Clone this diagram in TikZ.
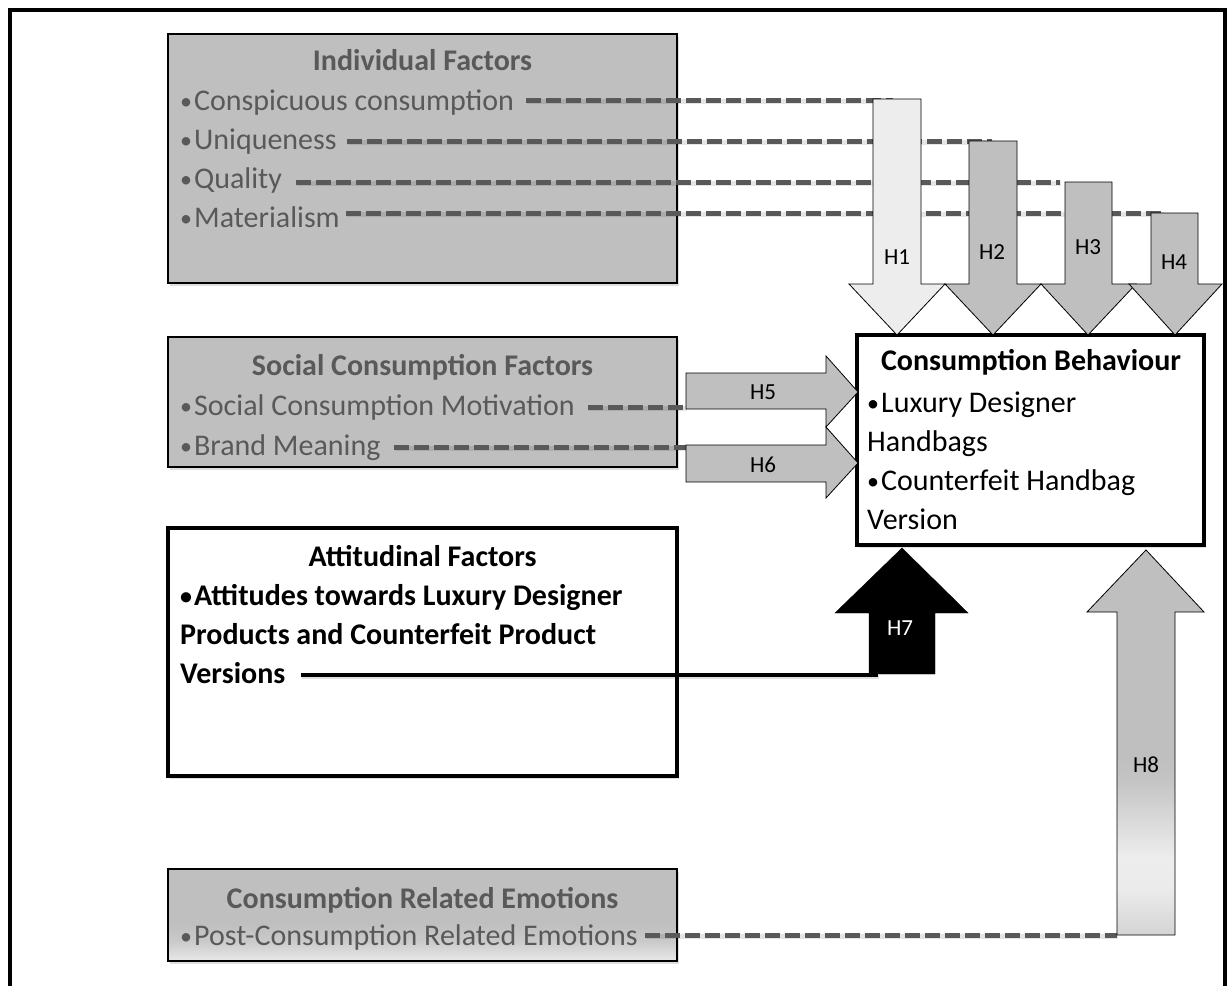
\documentclass[tikz,border=0pt]{standalone}
\usepackage{fontspec}
\setmainfont{Carlito}
\usetikzlibrary{shadows,calc}
\definecolor{tgray}{HTML}{595959}
\definecolor{bgray}{HTML}{BFBFBF}
\definecolor{lgray}{HTML}{EDEDED}
\newcommand{\bul}{\raisebox{1pt}{\fontsize{24}{24}\selectfont •}\kern2pt}
\pgfdeclareverticalshading{hEightShade}{100bp}{color(0bp)=(black!17); color(25bp)=(black!17); color(31bp)=(black!8); color(35bp)=(black!7); color(45bp)=(black!23); color(48bp)=(black!25); color(100bp)=(black!25)}
\pgfdeclareverticalshading{emoShade}{100bp}{color(0bp)=(black!9); color(25bp)=(black!9); color(36bp)=(black!21); color(45bp)=(black!25); color(100bp)=(black!25)}
\begin{document}
\begin{tikzpicture}[x=1pt,y=-1pt,
  gbox/.style={draw=black, line width=1.2pt, fill=bgray, drop shadow={opacity=0.25, shadow xshift=2pt, shadow yshift=-3pt}},
  wbox/.style={draw=black, line width=3.5pt, fill=white, drop shadow={opacity=0.25, shadow xshift=2pt, shadow yshift=-3pt}},
  body/.style={anchor=base west, inner sep=0pt, font=\fontsize{30}{36}\selectfont, text=tgray},
  head/.style={anchor=base, inner sep=0pt, font=\fontsize{30}{36}\selectfont\bfseries, text=tgray},
  dsh/.style={draw=tgray, line width=5pt, dash pattern=on 15pt off 5pt,
    preaction={draw=black, opacity=0.1, line width=5pt, transform canvas={xshift=1pt, yshift=-1.5pt}}},
  blk/.style={draw=black, line width=0.8pt, fill=bgray},
  hlab/.style={font=\fontsize{23}{26}\selectfont, inner sep=0pt}
]
\useasboundingbox (0,0) rectangle (1228,985);
\fill[white] (0,0) rectangle (1228,985);
\draw[line width=4pt, line join=miter] (10,990) -- (10,9.5) -- (1225,9.5) -- (1225,990);

% Individual factors
\node[gbox, minimum width=509pt, minimum height=249pt] (ind) at (422.5,158.5) {};
\node[head] (indh) at (422.5,70) {Individual Factors};
\node[body] (i1) at (180,110) {\bul Conspicuous consumption};
\node[body] (i2) at (180,149) {\bul Uniqueness};
\node[body] (i3) at (180,188) {\bul Quality};
\node[body] (i4) at (180,227) {\bul Materialism};

% Social consumption factors
\node[gbox, minimum width=509pt, minimum height=130pt] (soc) at (422.5,402) {};
\node[head] (soch) at (422.5,375) {Social Consumption Factors};
\node[body] (s1) at (180,415) {\bul Social Consumption Motivation};
\node[body] (s2) at (180,455) {\bul Brand Meaning};

% Attitudinal factors
\node[wbox, minimum width=509pt, minimum height=248pt] (att) at (422.5,652) {};
\node[head, text=black] (atth) at (422.5,566) {Attitudinal Factors};
\node[body, text=black, font=\fontsize{30}{36}\selectfont\bfseries] (a1) at (180,605) {\bul Attitudes towards Luxury Designer};
\node[body, text=black, font=\fontsize{30}{36}\selectfont\bfseries] (a2) at (180,644) {Products and Counterfeit Product};
\node[body, text=black, font=\fontsize{30}{36}\selectfont\bfseries] (a3) at (180,683) {Versions};

% Emotions
\node[gbox, shade, shading=emoShade, minimum width=509pt, minimum height=92pt] (emo) at (422.5,915) {};
\node[head] (emoh) at (422.5,908) {Consumption Related Emotions};
\node[body] (e1) at (180,945) {\bul Post-Consumption Related Emotions};

% Consumption behaviour
\node[wbox, minimum width=347pt, minimum height=210pt] (cb) at (1030.5,440) {};
\node[head, text=black] (cbh) at (1031,370) {Consumption Behaviour};
\node[body, text=black] (c1) at (867,412) {\bul Luxury Designer};
\node[body, text=black] (c2) at (867,451) {Handbags};
\node[body, text=black] (c3) at (867,490) {\bul Counterfeit Handbag};
\node[body, text=black] (c4) at (867,529) {Version};

% connector targets
\coordinate (t1) at (893,100);
\coordinate (t2) at (992,141);
\coordinate (t3) at (1060,182);
\coordinate (t4) at (1163,213);
\coordinate (t5) at (686,407);
\coordinate (t6) at (686,447);
\coordinate (t7) at (878,675);
\coordinate (t8) at (1117,935);

% dashed connectors
\draw[dsh] (i1.east |- t1) ++(12,0) -- (t1);
\draw[dsh] (i2.east |- t2) ++(10,0) -- (t2);
\draw[dsh] (i3.east |- t3) ++(14,0) -- (t3);
\draw[dsh] (i4.east |- t4) ++(6,0) -- (t4);
\draw[dsh] (s1.east |- t5) ++(13,0) -- (t5);
\draw[dsh] (s2.east |- t6) ++(13,0) -- (t6);
\draw[dsh] (e1.east |- t8) ++(7,0) -- (t8);
\draw[line width=4pt, black, preaction={draw=black, opacity=0.12, line width=4pt, transform canvas={xshift=1pt, yshift=-2pt}}] (a3.east |- t7) ++(15,0) -- (t7);

% H1-H4 block arrows
\draw[blk, fill=lgray] (873,99) -- (921,99) -- (921,284) -- (945,284) -- (897,335) -- (849,284) -- (873,284) -- cycle;
\draw[blk] (969,141) -- (1017,141) -- (1017,284) -- (1041,284) -- (993,335) -- (945,284) -- (969,284) -- cycle;
\draw[blk] (1065,182) -- (1112,182) -- (1112,284) -- (1136,284) -- (1088,335) -- (1041,284) -- (1065,284) -- cycle;
\draw[blk] (1151,213) -- (1198,213) -- (1198,284) -- (1222,284) -- (1175,335) -- (1129,284) -- (1151,284) -- cycle;
\node[hlab] (lh1) at (897,257) {H1};
\node[hlab] (lh2) at (992,252) {H2};
\node[hlab] (lh3) at (1088,247) {H3};
\node[hlab] (lh4) at (1174,262) {H4};

% H5, H6
\draw[blk] (686,373) -- (826,373) -- (826,356) -- (858,392) -- (826,427) -- (826,409) -- (686,409) -- cycle;
\draw[blk] (686,445) -- (826,445) -- (826,427) -- (858,463) -- (826,498) -- (826,482) -- (686,482) -- cycle;
\node[hlab] (lh5) at (763,392) {H5};
\node[hlab] (lh6) at (763,465) {H6};

% H7
\draw[draw=black, fill=black] (869,674) -- (869,613) -- (835,613) -- (902,548) -- (968,613) -- (935,613) -- (935,674) -- cycle;
\node[hlab, text=white] (lh7) at (900,628) {H7};

% H8
\shadedraw[draw=black, line width=0.8pt, shading=hEightShade] (1117,935) -- (1117,612) -- (1087,612) -- (1146,550) -- (1204,612) -- (1175,612) -- (1175,935) -- cycle;
\node[hlab] (lh8) at (1146,765) {H8};
\end{tikzpicture}
\end{document}
